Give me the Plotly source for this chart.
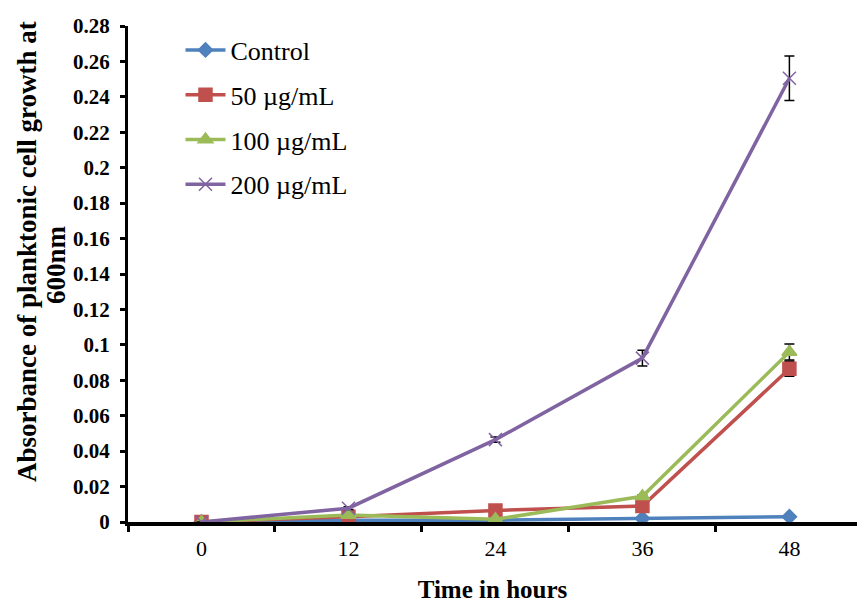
import plotly.graph_objects as go

hours = ["0", "12", "24", "36", "48"]
series_names = ["Control", "50 µg/mL", "100 µg/mL", "200 µg/mL"]
control = [0.0, 0.001, 0.001, 0.002, 0.003]
c50 = [0.0, 0.003, 0.0065, 0.009, 0.0865]
c100 = [0.0, 0.004, 0.0015, 0.0145, 0.096]
c200 = [0.0, 0.0078, 0.0465, 0.0925, 0.2505]
err_control = [0.0, 0.0003, 0.0003, 0.0004, 0.0005]
err50 = [0.0, 0.0005, 0.0007, 0.0008, 0.0042]
err100 = [0.0, 0.0005, 0.0005, 0.0008, 0.0045]
err200 = [0.0, 0.0008, 0.0015, 0.0045, 0.0125]
y_title_lines = ["Absorbance of planktonic cell growth at", "600nm"]
x_title = "Time in hours"

colors = ["#4F81BD", "#C0504D", "#9BBB59", "#8064A2"]
symbols = ["diamond", "square", "triangle-up", "x-thin"]
sizes = [11, 13, 13, 13]
values = [control, c50, c100, c200]
errs = [err_control, err50, err100, err200]

fig = go.Figure()
for i, name in enumerate(series_names):
    fig.add_trace(go.Scatter(
        x=hours, y=values[i], name=name, mode="lines+markers",
        legendgroup=f"g{i}",
        line=dict(color=colors[i], width=3.5),
        marker=dict(symbol=symbols[i], size=sizes[i], color=colors[i],
                    line=dict(color=colors[i], width=1.5)),
        error_y=dict(type="data", array=errs[i], visible=True,
                     color="black", thickness=1.5, width=5),
    ))

font = "Liberation Serif, Times New Roman, serif"
fig.update_layout(
    width=857, height=603,
    margin=dict(l=128, r=0, t=26, b=81),
    plot_bgcolor="white", paper_bgcolor="white",
    font=dict(family=font, color="black"),
    legend=dict(x=0.072, y=0.999, xanchor="left", yanchor="top",
                font=dict(size=26, family=font), tracegroupgap=8,
                bgcolor="rgba(0,0,0,0)", itemwidth=40),
    xaxis=dict(
        type="category", range=[-0.5, 4.46], tickson="boundaries",
        showline=True, linecolor="black", linewidth=4, automargin=False,
        ticks="outside", ticklen=6, tickwidth=3, tickcolor="black",
        showgrid=False, zeroline=False, ticklabelstandoff=4,
        tickfont=dict(size=22, family=font),
        title=dict(text="<b>" + x_title + "</b>", font=dict(size=25, family=font), standoff=24),
    ),
    yaxis=dict(
        range=[0, 0.28], dtick=0.02, tick0=0, automargin=False,
        showline=True, linecolor="black", linewidth=3,
        ticks="outside", ticklen=5, tickwidth=3, tickcolor="black",
        showgrid=False, zeroline=False, ticklabelstandoff=6,
        tickfont=dict(size=21, family=font, weight="bold"),
    ),
    annotations=[
        dict(text="<b>" + y_title_lines[0] + "</b>", textangle=-90, showarrow=False,
             xref="paper", yref="paper", x=0, y=(522 - 252) / 496,
             xanchor="center", yanchor="middle", xshift=27 - 128,
             font=dict(size=27, family=font)),
        dict(text="<b>" + y_title_lines[1] + "</b>", textangle=-90, showarrow=False,
             xref="paper", yref="paper", x=0, y=(522 - 265) / 496,
             xanchor="center", yanchor="middle", xshift=56 - 128,
             font=dict(size=27, family=font)),
    ],
)

fig.write_html("out.html")
